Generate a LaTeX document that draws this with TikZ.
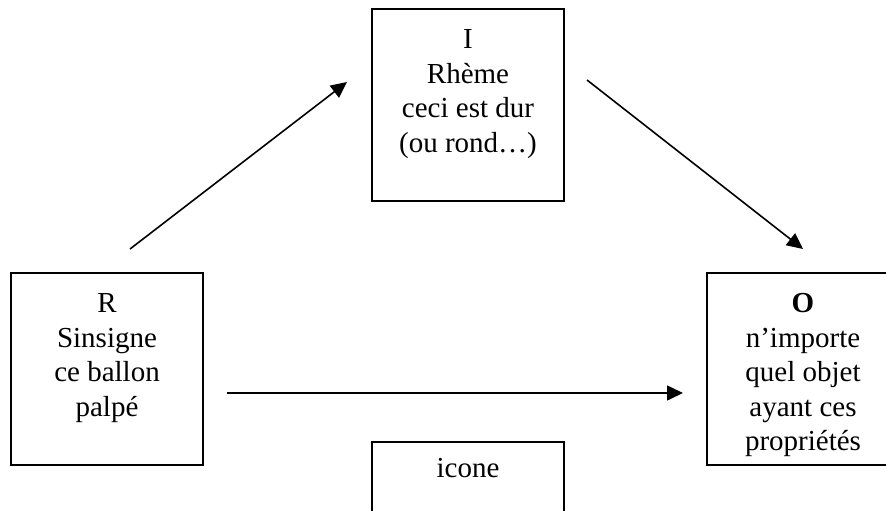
\documentclass[tikz,border=0pt]{standalone}
\usepackage{fontspec}
\setmainfont{Liberation Serif}
\usetikzlibrary{arrows.meta, positioning}

\begin{document}
\begin{tikzpicture}[
		x=1pt, y=-1pt,
		box/.style={rectangle, draw=black, line width=1.7pt, minimum width=192pt, minimum height=192pt, inner sep=0pt},
		boxtext/.style={align=center, inner sep=0pt, font=\fontsize{29}{34.5}\selectfont},
		arrow/.style={line width=1.6pt, -{Triangle[length=16pt, width=15pt]}}
		]
		\useasboundingbox (0,0) rectangle (886,511);
		
		% Cadres
		\node (I) [box] at (468,105) {};
		\node (R) [box] at (107,369) {};
		\node (O) [box] at (803,369) {};
		\node (icone) [box] at (468,538) {};
		
		% Textes
		\node (Itext) [boxtext, below=16pt of I.north] {\strut I\\Rhème\\ceci est dur\\(ou rond…)};
		\node (Rtext) [boxtext, below=16pt of R.north] {\strut R\\Sinsigne\\ce ballon\\palpé};
		\node (Otext) [boxtext, below=16pt of O.north] {\strut\textbf{O}\\n’importe\\quel objet\\ayant ces\\propriétés};
		\node (iconetext) [boxtext, below=12pt of icone.north] {\strut icone};
		
		% Extremites des fleches
		\coordinate (RIstart) at (130,249);
		\coordinate (RIend) at (347,82);
		\coordinate (IOstart) at (587,80);
		\coordinate (IOend) at (803,249);
		\coordinate (ROstart) at (227,393);
		\coordinate (ROend) at (683,393);
		
		% Fleches
		\draw [arrow] (RIstart) -- (RIend);
		\draw [arrow] (IOstart) -- (IOend);
		\draw [arrow] (ROstart) -- (ROend);
		
	\end{tikzpicture}
\end{document}
